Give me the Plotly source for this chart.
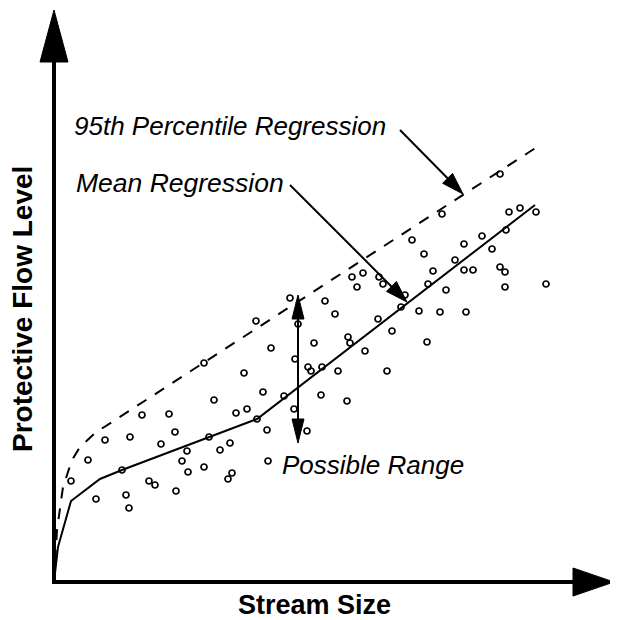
import math
import plotly.graph_objects as go

# ---------------- data (arbitrary schematic units) ----------------
stream_size = [160, 209, 230, 88, 115, 182, 193, 240, 51, 76, 121, 107, 155, 133, 166, 176,
               213, 203, 34, 68, 128, 150, 134, 178, 174, 214, 17, 95, 101, 122, 42, 72, 75,
               236, 271, 303, 329, 281, 202, 244, 324, 338, 294, 296, 260, 217, 311, 150, 241,
               254, 257, 268, 284, 333, 190, 267, 293, 253,
               446, 388, 455, 466, 482, 452, 428, 410, 358, 438, 370, 401, 379, 410, 419, 446,
               451, 298, 309, 325, 374, 351, 392, 451, 492, 347, 365, 386, 412, 373]
protective_flow = [182, 190, 186, 167, 168, 169, 173, 173, 142, 145, 150, 138, 145, 131, 132, 139,
                   152, 163, 122, 112, 121, 115, 110, 109, 103, 121, 101, 101, 97, 91, 83, 87, 74,
                   284, 281, 295, 298, 268, 261, 258, 263, 251, 245, 239, 239, 234, 231, 219, 223,
                   215, 211, 215, 211, 211, 209, 187, 181, 151,
                   408, 368, 370, 374, 370, 352, 346, 338, 342, 333, 328, 322, 311, 312, 312, 315,
                   310, 305, 309, 305, 298, 287, 292, 295, 298, 275, 271, 270, 270, 240]

mean_x = [0, 4, 17, 46, 68, 155, 203, 481]
mean_y = [0, 35, 81, 103, 112, 145, 163, 377]

p95_x = [0, 3, 9, 18, 26, 41, 483]
p95_y = [0, 52, 95, 122, 135, 149, 435]

label_p95 = "95th Percentile Regression"
label_mean = "Mean Regression"
label_range = "Possible Range"
x_title = "Stream Size"
y_title = "Protective Flow Level"

# ---------------- helpers (decoration geometry) ----------------
OX, OY = 54, 582   # page-pixel position of the axis origin
PAGE_PAD = 8       # default body margin of the html page
W, H = 618 - PAGE_PAD, 620 - PAGE_PAD


def d(px, py):
    """convert a page pixel position to data units (1 unit = 1 px)"""
    return px - OX, OY - py


def head(tail, tip, length, width):
    (x0, y0), (x1, y1) = tail, tip
    L = math.hypot(x1 - x0, y1 - y0)
    ux, uy = (x1 - x0) / L, (y1 - y0) / L
    bx, by = x1 - ux * length, y1 - uy * length
    nx, ny = -uy * width / 2, ux * width / 2
    path = f"M{x1},{y1} L{bx + nx},{by + ny} L{bx - nx},{by - ny} Z"
    return dict(type="path", xref="x", yref="y", path=path,
                fillcolor="black", line=dict(color="black", width=1)), (bx, by)


def seg(a, b, w):
    return dict(type="line", xref="x", yref="y", x0=a[0], y0=a[1], x1=b[0], y1=b[1],
                line=dict(color="black", width=w))


def arrow(tail, tip, length, width, w=2):
    h, base = head(tail, tip, length, width)
    return [seg(tail, base, w), h]


FONT = "Liberation Sans, Arial, sans-serif"

fig = go.Figure()
fig.add_trace(go.Scatter(x=p95_x, y=p95_y, mode="lines",
                         line=dict(color="black", width=2, dash="11px,10px"),
                         hoverinfo="skip"))
fig.add_trace(go.Scatter(x=mean_x, y=mean_y, mode="lines",
                         line=dict(color="black", width=2), hoverinfo="skip"))
fig.add_trace(go.Scatter(x=stream_size, y=protective_flow, mode="markers",
                         marker=dict(symbol="circle-open", size=6, color="black",
                                     line=dict(width=1.7, color="black"))))

shapes = []
# axes with big arrowheads
shapes.append(seg(d(54, 584), d(54, 62), 4))
h, _ = head(d(54, 62), d(54, 10), 52, 28)
shapes.append(h)
shapes.append(seg(d(52, 582), d(573, 582), 4))
h, _ = head(d(573, 582), d(614, 582), 41, 28)
shapes.append(h)
# leader arrows
shapes += arrow(d(400, 130), d(463, 194), 22, 14)
shapes += arrow(d(290, 185), d(407, 302), 22, 14)
# possible range double arrow
shapes += arrow(d(298, 370), d(298, 295), 24, 12)
shapes += arrow(d(298, 370), d(298, 443), 24, 12)

ann = []
def text(s, pos, xanchor="left", angle=0, size=26):
    x, y = pos
    ann.append(dict(x=x, y=y, xref="x", yref="y", text=s, showarrow=False,
                    xanchor=xanchor, yanchor="middle", textangle=angle,
                    font=dict(family=FONT, size=size, color="black")))

text(f"<i>{label_p95}</i>", d(72, 126))
text(f"<i>{label_mean}</i>", d(74, 183), size=26.5)
text(f"<i>{label_range}</i>", d(280, 465))
text(f"<b>{x_title}</b>", d(314, 605), xanchor="center", size=27)
text(f"<b>{y_title}</b>", d(22, 309), xanchor="center", angle=-90, size=28)

fig.update_layout(
    width=W, height=H,
    margin=dict(l=0, r=0, t=0, b=0),
    paper_bgcolor="white", plot_bgcolor="white",
    showlegend=False,
    xaxis=dict(range=[PAGE_PAD - OX, PAGE_PAD - OX + W], visible=False, fixedrange=True),
    yaxis=dict(range=[OY - PAGE_PAD - H, OY - PAGE_PAD], visible=False, fixedrange=True),
    shapes=shapes, annotations=ann,
)

fig.write_html("out.html")
